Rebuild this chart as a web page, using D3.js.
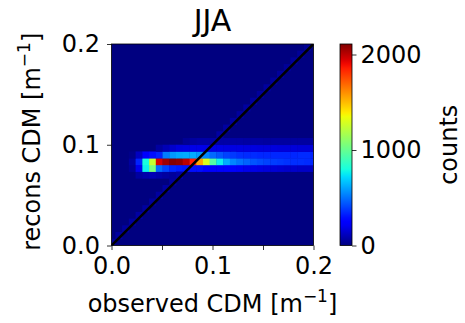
<!DOCTYPE html>
<html>
<head>
<meta charset="utf-8">
<script src="https://cdn.jsdelivr.net/npm/d3@7"></script>
<style>
  body { margin: 0; background: #fff; }
  svg text { font-family: "DejaVu Sans", sans-serif; fill: #000; }
</style>
</head>
<body>
<svg class="chart"></svg>
<script>
let width = 465,
  height = 323;

// histogram bins: 30 per axis over 0..0.2, x edges shifted a bit
let binW = 0.2 / 30;
let xEdge0 = 0.00386; // left edge of column index 1
let vmax = 2110;

// counts per row (row index -> 31 columns, first column partly clipped)
let rowIds = [10, 11, 12, 13, 14, 15];
let row10 = [0, 0, 0, 0, 60, 80, 100, 80, 60, 50, 40, 0, 0, 0, 0, 0, 0, 0, 0, 0, 0, 0, 0, 0, 0, 0, 0, 0, 0, 0, 0];
let row11 = [0, 0, 0, 40, 200, 760, 1050, 480, 400, 340, 320, 300, 290, 280, 270, 260, 250, 240, 230, 220, 200, 190, 180, 170, 160, 150, 140, 140, 130, 130, 120];
let row12 = [0, 0, 0, 60, 330, 800, 1250, 1950, 2050, 2100, 2080, 2000, 1850, 1550, 1300, 950, 760, 620, 540, 500, 470, 440, 420, 400, 390, 380, 370, 360, 360, 350, 340];
let row13 = [0, 0, 0, 20, 120, 230, 280, 330, 520, 580, 610, 620, 620, 580, 540, 480, 440, 400, 380, 360, 350, 350, 345, 345, 340, 340, 340, 345, 350, 355, 330];
let row14 = [0, 0, 0, 0, 0, 0, 0, 60, 100, 140, 170, 180, 190, 190, 190, 185, 185, 180, 180, 180, 175, 175, 170, 170, 170, 165, 165, 165, 160, 160, 160];
let row15 = [0, 0, 0, 0, 0, 0, 0, 0, 0, 0, 0, 40, 60, 70, 70, 70, 70, 70, 70, 70, 65, 65, 65, 60, 60, 60, 60, 60, 60, 60, 60];
let rows = [row10, row11, row12, row13, row14, row15];

// faint counts in the cells the 1:1 line passes through (rows 0..29)
let diagCounts = [50, 60, 55, 60, 65, 60, 55, 60, 65, 60, 70, 0, 0, 0, 0, 70, 65, 60, 60, 55, 60, 55, 50, 55, 50, 50, 45, 50, 45, 40];

let xTicks = [0, 0.05, 0.1, 0.15, 0.2];
let yTicks = [0, 0.1, 0.2];
let cTicks = [0, 1000, 2000];

let plot = { left: 111.5, right: 313.5, top: 44, bottom: 245.5 };
let cbar = { left: 340, right: 352 };

let x = d3.scaleLinear().domain([0, 0.2]).range([plot.left, plot.right]);
let y = d3.scaleLinear().domain([0, 0.2]).range([plot.bottom, plot.top]);
let c = d3.scaleLinear().domain([0, vmax]).range([plot.bottom, plot.top]);

// matplotlib jet
let jr = d3.scaleLinear().domain([0, 0.35, 0.66, 0.89, 1]).range([0, 0, 1, 1, 0.5]).clamp(true);
let jg = d3.scaleLinear().domain([0, 0.125, 0.375, 0.64, 0.91, 1]).range([0, 0, 1, 1, 0, 0]).clamp(true);
let jb = d3.scaleLinear().domain([0, 0.11, 0.34, 0.65, 1]).range([0.5, 1, 1, 0, 0]).clamp(true);
function jet(v) {
  let t = v / vmax;
  return d3.rgb(jr(t) * 255, jg(t) * 255, jb(t) * 255).formatHex();
}

let svg = d3.select(".chart").attr("width", width).attr("height", height);
let defs = svg.append("defs");

defs.append("clipPath").attr("id", "clip")
  .append("rect")
  .attr("x", plot.left).attr("y", plot.top)
  .attr("width", plot.right - plot.left).attr("height", plot.bottom - plot.top);

// the reference image is soft, blur the cells a little
defs.append("filter").attr("id", "soft")
  .attr("x", "-5%").attr("y", "-5%").attr("width", "110%").attr("height", "110%")
  .append("feGaussianBlur").attr("stdDeviation", 0.6);

let cells = [];
rowIds.forEach((r, i) => {
  rows[i].forEach((v, k) => cells.push({ r: r, k: k, v: v }));
});
diagCounts.forEach((v, r) => {
  if (v == 0) return;
  let k = Math.floor(((r + 0.5) * binW - xEdge0) / binW) + 1;
  cells.push({ r: r, k: k, v: v });
});

let g = svg.append("g").attr("clip-path", "url(#clip)");
let hm = g.append("g").attr("filter", "url(#soft)");
hm.append("rect")
  .attr("x", plot.left - 8).attr("y", plot.top - 8)
  .attr("width", plot.right - plot.left + 16).attr("height", plot.bottom - plot.top + 16)
  .attr("fill", jet(0));

hm.selectAll(".cell")
  .data(cells.filter(d => d.v > 0))
  .enter()
  .append("rect")
  .attr("class", "cell")
  .attr("x", d => x(xEdge0 + (d.k - 1) * binW))
  .attr("y", d => y((d.r + 1) * binW))
  .attr("width", x(binW) - x(0) + 0.3)
  .attr("height", y(0) - y(binW) + 0.3)
  .attr("fill", d => jet(d.v));

// 1:1 line
g.append("line")
  .attr("x1", x(0)).attr("y1", y(0))
  .attr("x2", x(0.2)).attr("y2", y(0.2))
  .attr("stroke", "#000").attr("stroke-width", 2.6);

svg.append("rect")
  .attr("x", plot.left).attr("y", plot.top)
  .attr("width", plot.right - plot.left).attr("height", plot.bottom - plot.top)
  .attr("fill", "none").attr("stroke", "#000").attr("stroke-width", 0.8);

// axes
let xAxis = svg.append("g")
  .attr("transform", `translate(0,${plot.bottom})`)
  .call(d3.axisBottom(x).tickValues(xTicks).tickSize(4.5).tickPadding(7)
    .tickFormat(d => (Math.round(d * 100) % 10 == 0 ? d3.format(".1f")(d) : "")));
let yAxis = svg.append("g")
  .attr("transform", `translate(${plot.left},0)`)
  .call(d3.axisLeft(y).tickValues(yTicks).tickSize(4.5).tickPadding(7).tickFormat(d3.format(".1f")));

[xAxis, yAxis].forEach(a => {
  a.select(".domain").remove();
  a.selectAll("text").attr("font-size", 24).style("font-family", "DejaVu Sans");
  a.selectAll("line").attr("stroke", "#000").attr("stroke-width", 0.8);
});

// colorbar
let grad = defs.append("linearGradient")
  .attr("id", "jetgrad").attr("x1", 0).attr("y1", 1).attr("x2", 0).attr("y2", 0);
grad.selectAll("stop")
  .data(d3.range(0, 1.0001, 0.02))
  .enter()
  .append("stop")
  .attr("offset", d => d)
  .attr("stop-color", d => jet(d * vmax));

svg.append("rect")
  .attr("x", cbar.left).attr("y", plot.top)
  .attr("width", cbar.right - cbar.left).attr("height", plot.bottom - plot.top)
  .attr("fill", "url(#jetgrad)")
  .attr("stroke", "#000").attr("stroke-width", 0.8);

let cAxis = svg.append("g")
  .attr("transform", `translate(${cbar.right},0)`)
  .call(d3.axisRight(c).tickValues(cTicks).tickSize(4.5).tickPadding(4).tickFormat(d3.format("d")));
cAxis.select(".domain").remove();
cAxis.selectAll("text").attr("font-size", 24).style("font-family", "DejaVu Sans");
cAxis.selectAll("line").attr("stroke", "#000").attr("stroke-width", 0.8);

// labels
svg.append("text")
  .attr("x", (plot.left + plot.right) / 2).attr("y", 31)
  .attr("text-anchor", "middle").attr("font-size", 30)
  .text("JJA");

function unitLabel(sel, name) {
  sel.append("tspan").text(name + " [m");
  sel.append("tspan").attr("dy", -10).attr("font-size", 17).text("\u22121");
  sel.append("tspan").attr("dy", 10).text("]");
}

let xl = svg.append("text")
  .attr("x", (plot.left + plot.right) / 2).attr("y", 312)
  .attr("text-anchor", "middle").attr("font-size", 24);
unitLabel(xl, "observed CDM");

let yl = svg.append("text")
  .attr("transform", `translate(40,${(plot.top + plot.bottom) / 2 - 3}) rotate(-90)`)
  .attr("text-anchor", "middle").attr("font-size", 24);
unitLabel(yl, "recons CDM");

svg.append("text")
  .attr("transform", `translate(457,${(plot.top + plot.bottom) / 2}) rotate(-90)`)
  .attr("text-anchor", "middle").attr("font-size", 24)
  .text("counts");
</script>
</body>
</html>
